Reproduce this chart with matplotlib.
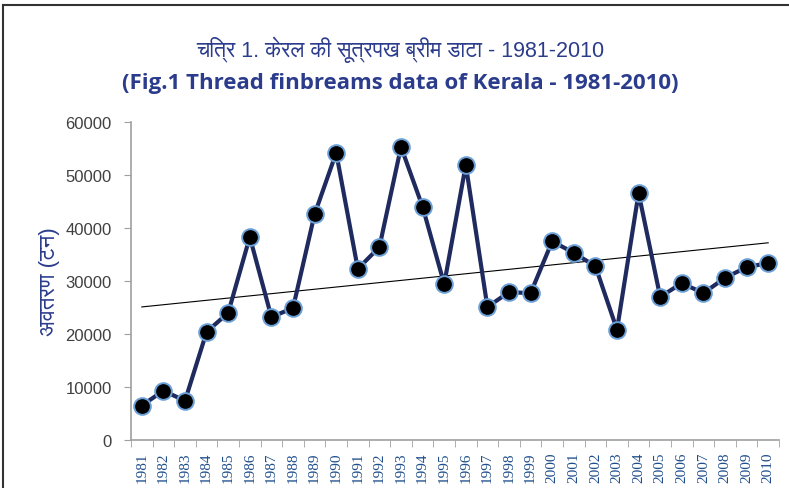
"""Thread finbreams landings, Kerala 1981-2010."""

import matplotlib
matplotlib.use("Agg")
import matplotlib.pyplot as plt
import numpy as np
from matplotlib import font_manager
from matplotlib.ft2font import FT2Font
from matplotlib.lines import Line2D

years = [str(y) for y in range(1981, 2011)]
catch_t = [6500, 9300, 7400, 20400, 24000, 38300, 23200, 24900, 42600, 54200,
           32300, 36400, 55300, 44000, 29400, 51900, 25100, 27900, 27700, 37500,
           35300, 32800, 20800, 46600, 27000, 29600, 27700, 30600, 32600, 33400]
y_ticks = [0, 10000, 20000, 30000, 40000, 50000, 60000]

title_hi = "चित्र 1. केरल की सूत्रपख ब्रीम डाटा - 1981-2010"
title_en = "(Fig.1 Thread finbreams data of Kerala - 1981-2010)"
ylabel_hi = "अवतरण (टन)"


def find_devanagari():
    # installed fonts with a glyph for क, sans faces first, mono last
    found = []
    for f in font_manager.fontManager.ttflist:
        try:
            if 0x0915 in FT2Font(f.fname).get_charmap():
                found.append(f.name)
        except Exception:
            continue
    found.sort(key=lambda n: ("Mono" in n, "Sans" not in n))
    return found[0] if found else None


deva = find_devanagari()
hi_family = ["Liberation Sans", deva] if deva else ["DejaVu Sans"]

blue = "#2B3C8C"
fig = plt.figure(figsize=(7.89, 4.89), dpi=100)
ax = fig.add_axes([131 / 789, 1 - 441 / 489, 648 / 789, 318 / 489])

x = np.arange(1, len(years) + 1)
ax.plot(x, catch_t, color="#1F2A5E", linewidth=3, marker="o", markersize=12,
        markerfacecolor="black", markeredgecolor="#6A9FD8", markeredgewidth=1.4,
        zorder=3)

slope, icpt = np.polyfit(x, catch_t, 1)
ax.plot([x[0], x[-1]], [icpt + slope * x[0], icpt + slope * x[-1]],
        color="black", linewidth=0.8, zorder=2)

ax.set_xlim(0.5, len(years) + 0.5)
ax.set_ylim(0, 60000)
ax.set_yticks(y_ticks)
ax.set_yticklabels([str(v) for v in y_ticks], fontsize=12, color="#404040",
                   family="Liberation Sans")
ax.set_xticks(x)
ax.set_xticklabels(years, rotation=90, fontsize=11, color="#1F4E8C",
                   family="Liberation Serif")
ax.set_xticks(np.arange(0.5, len(years) + 1), minor=True)
ax.tick_params(axis="x", which="major", length=0, pad=8)
ax.tick_params(axis="x", which="minor", length=5, color="#A0A0A0", direction="out")
ax.tick_params(axis="y", length=5, color="#A0A0A0", direction="out", pad=9)
for side in ("top", "right"):
    ax.spines[side].set_visible(False)
for side in ("left", "bottom"):
    ax.spines[side].set_color("#A0A0A0")
    ax.spines[side].set_linewidth(1.2)

ax.set_ylabel(ylabel_hi, color=blue, fontsize=16, family=hi_family, labelpad=4)

fig.text(400 / 789, 1 - 50 / 489, title_hi, ha="center", va="center",
         fontsize=15.5, color=blue, family=hi_family)
fig.text(400 / 789, 1 - 83 / 489, title_en, ha="center", va="center",
         fontsize=16, color=blue, fontweight="bold", family="Open Sans")

# outer frame, top and left edges
fig.add_artist(Line2D([3 / 789, 1], [1 - 6 / 489] * 2, color="#333333", linewidth=1.5))
fig.add_artist(Line2D([3 / 789] * 2, [0, 1 - 6 / 489], color="#333333", linewidth=1.5))

fig.savefig("out.png", dpi=100)
